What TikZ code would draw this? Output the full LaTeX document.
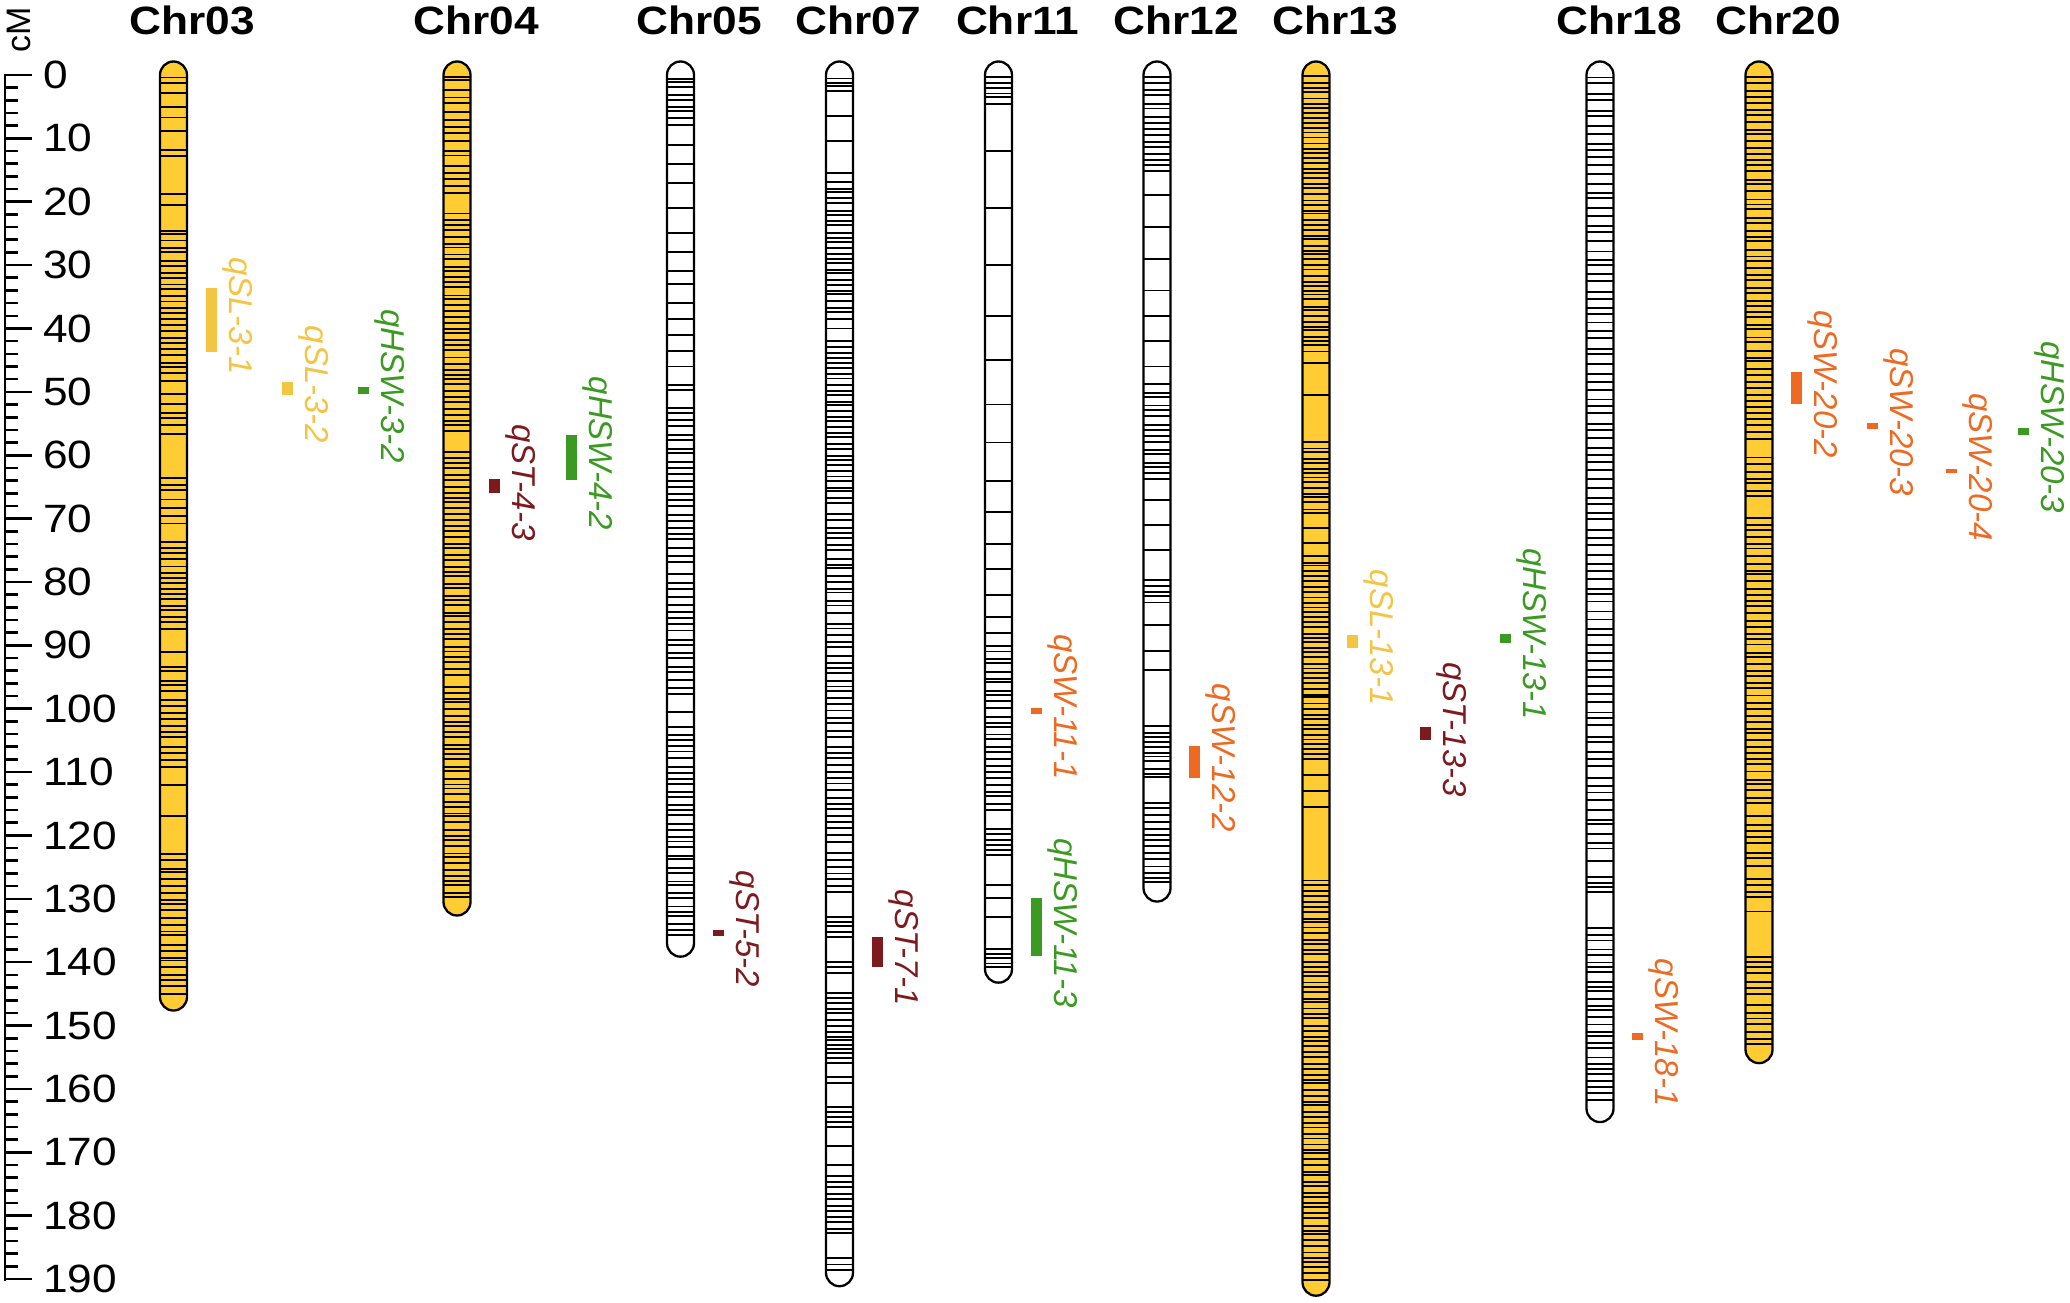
\documentclass[tikz,border=0pt]{standalone}
\usepackage{fontspec}
\setmainfont{Liberation Sans}
\newfontfamily\numfont[FakeStretch=1.12]{Liberation Sans}
\newfontfamily\titlefont[FakeStretch=1.12]{Liberation Sans}
\definecolor{chryel}{HTML}{FFCC33}
\definecolor{slcol}{HTML}{F4C443}
\definecolor{hswcol}{HTML}{3A9A22}
\definecolor{stcol}{HTML}{7D1A1E}
\definecolor{swcol}{HTML}{EE6A22}
\tikzset{
  band/.style={line width=1.9pt, black},
  chrout/.style={line width=2.3pt, black},
  chrtitle/.style={inner sep=0pt, anchor=base, font=\titlefont\bfseries\fontsize{39.5}{40}\selectfont},
  axisline/.style={line width=2.6pt, black},
  axnum/.style={inner sep=0pt, anchor=west, font=\numfont\fontsize{39.5}{40}\selectfont},
  qlab/.style={inner sep=0pt, rotate=-90, anchor=south, font=\fontsize{33}{33}\selectfont\itshape},
}
\newcommand\chromo[6]{%
  \pgfmathsetmacro\cx{#2}%
  \pgfmathsetmacro\yb{75+6.337*#3+13.5}%
  \begin{scope}
    \path[fill=#4, rounded corners=13.5pt] (\cx-13.5,61.5) rectangle (\cx+13.5,\yb);
    \clip[rounded corners=13.5pt] (\cx-13.5,61.5) rectangle (\cx+13.5,\yb);
    \foreach \c in {#5} {\draw[band] (\cx-14,{75+6.337*\c}) -- (\cx+14,{75+6.337*\c});}
    \foreach \a/\b/\s in {#6} {
      \pgfmathtruncatemacro\nb{(\b-\a)/\s}
      \foreach \k in {0,...,\nb} {
        \pgfmathsetmacro\yy{75+6.337*(\a+\k*\s+0.55*\s*(rnd-0.5))}
        \draw[band] (\cx-14,\yy) -- (\cx+14,\yy);
      }}
  \end{scope}
  \draw[chrout, rounded corners=13.5pt] (\cx-13.5,61.5) rectangle (\cx+13.5,\yb);
  \node[chrtitle] (#1) at (\cx+19,35) {#1};
}
\newcommand\qtl[6]{%
  \pgfmathsetmacro\ya{75+6.337*#3}%
  \pgfmathsetmacro\yc{75+6.337*#4}%
  \pgfmathsetmacro\ym{(\ya+\yc)/2-4}%
  \fill[#5] (#2,\ya) rectangle (#2+11,\yc);
  \node[qlab, text=#5] (#1) at (#2+16.5,\ym) {#6};
}
\begin{document}
\begin{tikzpicture}[x=1pt,y=-1pt]
\useasboundingbox (0,0) rectangle (2070,1303);
\pgfmathsetseed{7}
% axis
\draw[axisline] (5,73.7) -- (5,1280.5);
\foreach \v in {0,2,...,190} {\draw[axisline] (5,{75+6.337*\v}) -- (18,{75+6.337*\v});}
\foreach \v in {0,10,...,190} {
  \draw[axisline] (5,{75+6.337*\v}) -- (32,{75+6.337*\v});
  \node[axnum] (ax\v) at (43,{75+6.337*\v}) {\v};
}
\node[inner sep=0pt, rotate=90, font=\fontsize{34}{34}\selectfont] (cmlab) at (18.5,29.5) {cM};
% chromosomes
\chromo{Chr03}{173.5}{145.5}{chryel}
  {0.4,1.2,2.9,5.1,6.7,8.9,11.8,12.8,18.8,20.5,50.3,63.6,91,112,117}
  {24.4/48.6/0.95, 52/57.3/1.1, 64.5/70.9/1.2, 73.8/87.8/0.9, 93.2/109/1.05, 123/145/1.0}
\chromo{Chr04}{457}{130.5}{chryel}
  {0.3}
  {1/20/1.2, 22/56.5/0.9, 59.5/95/0.9, 96.5/130/0.9}
\chromo{Chr05}{680.5}{137}{white}
  {11,14,17,21,25,28,31,33,36,38.5,41,43.5,46,48.9,49.7,52.5,53.3,100.5}
  {0.4/8/0.9, 54.6/77/1.05, 79/98/1.1, 103/136.5/1.0}
\chromo{Chr07}{839.5}{189}{white}
  {6.5,10.4,15.5,40,122.8,123.9,125,126,126.9,128,128.9,132.9,133.7,134.3,135.2,136,140,140.8,141.7,144.9,145.7,146.4,147.4,148,149.1,150,151,151.8,152.3,153,153.7,154.4,155.1,155.9,158.1,159.1,162.9,163.7,164.5,165.2,166,169,172,186.7,187.7,188.6}
  {0.4/2.5/0.7, 17/38.5/0.85, 42/68/0.85, 69.5/85/0.95, 86.5/105/1.0, 106/121/1.0, 173.9/183/0.9}
\chromo{Chr11}{998.5}{141.1}{white}
  {12,21,30,38,45,52,58,64,69,74,78,82,85.5,88,127.8,129.9,132.9}
  {0.4/5/0.8, 90/116.5/1.0, 118.8/124/0.9, 137.8/140.8/0.75}
\chromo{Chr12}{1157}{128.3}{white}
  {19,24,29,34,38,42,46,67,71,75,86.8,90.9,93.9}
  {0.4/16/1.0, 49/64/1.0, 79.7/84.1/0.9, 102.9/111/0.8, 114.9/125/1.0, 126/128/0.7}
\chromo{Chr13}{1316}{190.5}{chryel}
  {45.4,50.5,71.5,73.8,110.5,113,115.5}
  {0.4/44/0.8, 58/69.3/0.8, 76/108.7/0.8, 127/190/0.85}
\chromo{Chr18}{1600}{163.1}{white}
  {0.4}
  {1.5/125/1.3, 126.5/129/0.8, 134.8/162.5/1.0}
\chromo{Chr20}{1759}{153.8}{chryel}
  {132}
  {0.4/57.5/1.0, 60.5/67/1.0, 70/115/1.0, 117/125/1.1, 127/130/0.9, 138.9/145/1.0, 147/153.3/1.0}
% QTLs
\qtl{q1}{206}{33.6}{43.7}{slcol}{qSL-3-1}
\qtl{q2}{282}{48.4}{50.5}{slcol}{qSL-3-2}
\qtl{q3}{358}{49.2}{50.3}{hswcol}{qHSW-3-2}
\qtl{q4}{489}{63.8}{66.0}{stcol}{qST-4-3}
\qtl{q5}{566}{56.8}{63.9}{hswcol}{qHSW-4-2}
\qtl{q6}{713}{134.9}{135.9}{stcol}{qST-5-2}
\qtl{q7}{872}{136.0}{140.8}{stcol}{qST-7-1}
\qtl{q8}{1031}{99.9}{100.8}{swcol}{qSW-11-1}
\qtl{q9}{1031}{129.9}{139.0}{hswcol}{qHSW-11-3}
\qtl{q10}{1189}{105.9}{110.9}{swcol}{qSW-12-2}
\qtl{q11}{1347}{88.4}{90.4}{slcol}{qSL-13-1}
\qtl{q12}{1420}{102.9}{104.9}{stcol}{qST-13-3}
\qtl{q13}{1500}{88.2}{89.6}{hswcol}{qHSW-13-1}
\qtl{q14}{1632}{151.2}{152.3}{swcol}{qSW-18-1}
\qtl{q15}{1791}{46.9}{51.9}{swcol}{qSW-20-2}
\qtl{q16}{1867}{54.9}{55.9}{swcol}{qSW-20-3}
\qtl{q17}{1946}{62.2}{62.8}{swcol}{qSW-20-4}
\qtl{q18}{2018}{55.7}{56.8}{hswcol}{qHSW-20-3}
\end{tikzpicture}
\end{document}
